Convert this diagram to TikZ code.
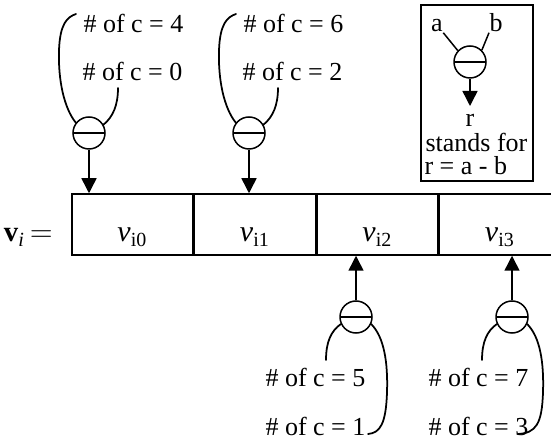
\documentclass[tikz,border=0pt]{standalone}
\usepackage{fontspec}
\setmainfont{Liberation Serif}
\usetikzlibrary{arrows.meta,calc,positioning}
\tikzset{
    subop/.style={circle,draw=black,line width=0.6pt,inner sep=0pt,minimum size=12.8pt,
        path picture={\draw[line width=0.6pt] (path picture bounding box.west) -- (path picture bounding box.east);}},
    myarrow/.style={line width=0.6pt,-{Triangle[length=6pt,width=6pt]}},
    mycurve/.style={line width=0.7pt,line cap=round},
    mycell/.style={draw=black,line width=0.6pt,minimum width=48.4pt,minimum height=24.4pt,inner sep=0pt,
        text height=14pt,text depth=0pt,font=\fontsize{12}{14}\selectfont},
    cnt/.style={anchor=base west,inner sep=0pt},
    every node/.style={font=\fontsize{10.4}{12}\selectfont}
}

\begin{document}
\begin{tikzpicture}[x=0.4pt,y=-0.4pt]
  \useasboundingbox (0,0) rectangle (551,444);
  \clip (0,0) rectangle (551,444);

  % the vector and its cells
  \node[mycell] (c0) at (132.5,224.5) {{\itshape v}\textsubscript{i0}};
  \node[mycell,right=0pt of c0] (c1) {{\itshape v}\textsubscript{i1}};
  \node[mycell,right=0pt of c1] (c2) {{\itshape v}\textsubscript{i2}};
  \node[mycell,right=0pt of c2] (c3) {{\itshape v}\textsubscript{i3}};
  \node[inner sep=0pt,text height=14pt,text depth=0pt,font=\fontsize{11.5}{13}\selectfont,left=7.2pt of c0] (vi)
    {\textbf{v}\textsubscript{\itshape i}\,$=$};

  % subtractors above the vector
  \foreach \g/\dx/\ta/\tb in {0/0/4/0,1/160/6/2}{
    \begin{scope}[shift={(\dx,0)}]
      \node[subop] (s\g) at (89,133) {};
      \node[cnt] (ta\g) at (83,33) {\# of c = \ta};
      \node[cnt] (tb\g) at (82,81) {\# of c = \tb};
      \coordinate (ea\g) at (76,14);
      \coordinate (eb\g) at (118,88);
      \draw[mycurve] (s\g.142) .. controls (64,108) and (58,80) .. (59,50)
        .. controls (60,24) and (67,17) .. (ea\g);
      \draw[mycurve] (s\g.30) .. controls (113,117) and (118,105) .. (eb\g);
      \draw[myarrow] (s\g) -- (s\g |- c\g.north);
    \end{scope}
  }

  % subtractors below the vector
  \foreach \g/\dx/\tx/\hx/\ta/\tb in {2/0/265/368/5/1,3/156/272/362/7/3}{
    \begin{scope}[shift={(\dx,0)}]
      \node[subop] (s\g) at (356,317) {};
      \node[cnt] (ta\g) at (\tx,387) {\# of c = \ta};
      \node[cnt] (tb\g) at (\tx,435) {\# of c = \tb};
      \coordinate (ea\g) at (326,360);
      \coordinate (eb\g) at (\hx,434);
      \draw[mycurve] (s\g.205) .. controls (331,331) and (326,342) .. (ea\g);
      \draw[mycurve] (s\g.-25) .. controls (384,337) and (388,362) .. (387,392)
        .. controls (386,424) and (380,433) .. (eb\g);
      \draw[myarrow] (s\g) -- (s\g |- c\g.south);
    \end{scope}
  }

  % legend
  \draw[line width=0.6pt] (421,5) rectangle (533,181);
  \node[subop] (sl) at (470,62) {};
  \node[anchor=base,inner sep=0pt] (la) at (437,32) {a};
  \node[anchor=base,inner sep=0pt] (lb) at (496,32) {b};
  \draw[line width=0.6pt] (la.south east) -- (sl.137);
  \draw[line width=0.6pt] (lb.south west) -- (sl.45);
  \coordinate (rt) at (470,106);
  \draw[myarrow] (sl) -- (rt);
  \node[anchor=base,inner sep=0pt] (lr) at (470,127) {r};
  \node[cnt] (lst) at (425,152) {stands for};
  \node[cnt] (leq) at (424,175) {r = a - b};
\end{tikzpicture}
\end{document}
